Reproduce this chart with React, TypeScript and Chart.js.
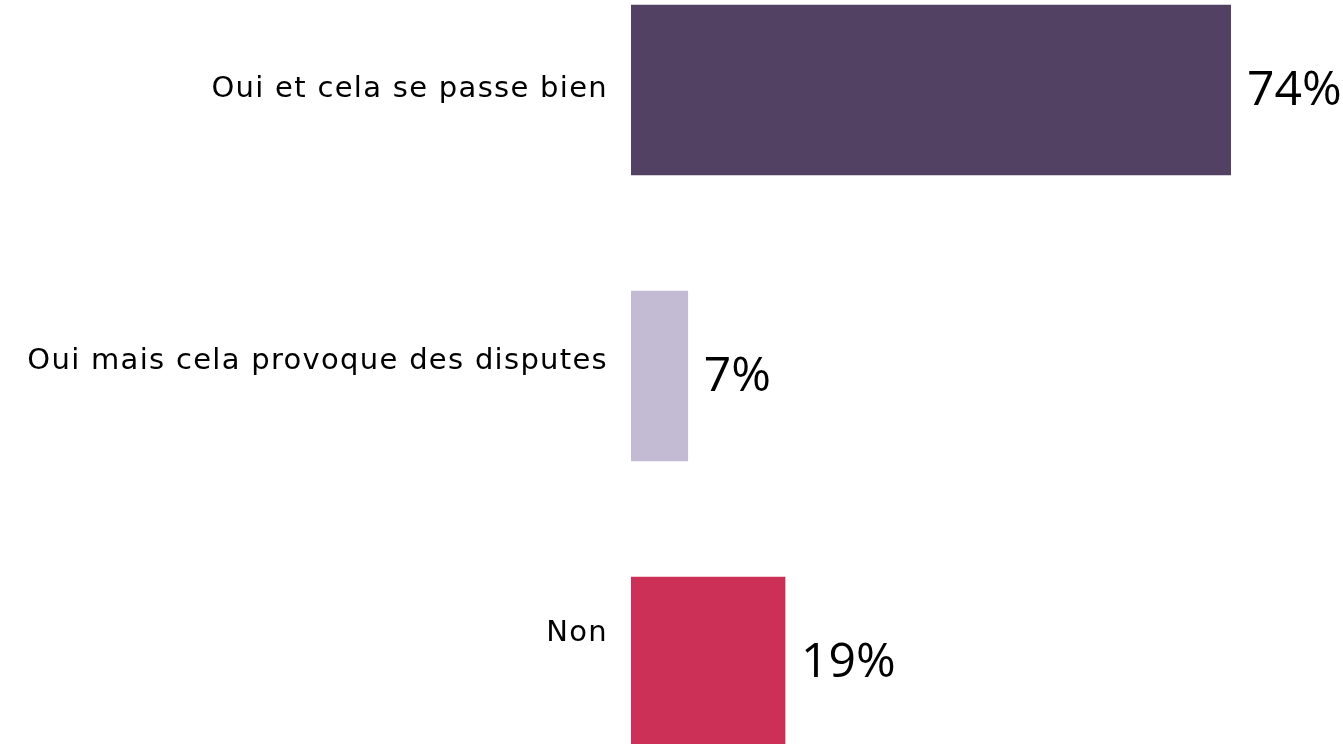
import React, { useEffect, useRef } from "react";
import { Chart, registerables } from "chart.js";

Chart.register(...registerables);

const categories = [
  "Oui et cela se passe bien",
  "Oui mais cela provoque des disputes",
  "Non",
];
const values = [74, 7, 19];
const barColors = ["#524162", "#c3bad3", "#cc3057"];
const labelPositions = [0, 1, 2];

const LABEL_FONT = "'DejaVu Sans', 'Open Sans', sans-serif";
const VALUE_FONT = "'Open Sans', 'Noto Sans', sans-serif";

const labelSpacing = {
  id: "labelSpacing",
  beforeDraw(chart: any) {
    chart.ctx.letterSpacing = "1.3px";
  },
  beforeDatasetsDraw(chart: any) {
    chart.ctx.letterSpacing = "0px";
  },
};

const valueLabels = {
  id: "valueLabels",
  afterDatasetsDraw(chart: any) {
    const ctx = chart.ctx;
    const meta = chart.getDatasetMeta(0);
    ctx.save();
    ctx.letterSpacing = "0px";
    ctx.font = `400 48px ${VALUE_FONT}`;
    ctx.fillStyle = "#000000";
    ctx.textAlign = "left";
    ctx.textBaseline = "middle";
    meta.data.forEach((bar: any, i: number) => {
      ctx.fillText(`${values[i]}%`, bar.x + 16, bar.y + 1);
    });
    ctx.restore();
  },
};

export default function App() {
  const ref = useRef<HTMLCanvasElement | null>(null);

  useEffect(() => {
    if (!ref.current) return;
    const chart = new Chart(ref.current, {
      type: "bar",
      data: {
        labels: categories,
        datasets: [
          {
            data: values,
            backgroundColor: barColors,
            borderWidth: 0,
            barThickness: 170,
            yAxisID: "y",
            xAxisID: "x",
          },
        ],
      },
      options: {
        indexAxis: "y",
        responsive: false,
        animation: false,
        events: [],
        layout: { padding: { left: 0, right: 112, top: 0, bottom: 0 } },
        plugins: {
          legend: { display: false },
          tooltip: { enabled: false },
        },
        scales: {
          x: { display: false, min: 0, max: 74 },
          y: { type: "category", display: false },
          y2: {
            type: "linear",
            position: "left",
            reverse: true,
            offset: false,
            bounds: "data",
            min: -0.525,
            max: 2.629,
            grid: { display: false, drawTicks: false, offset: false },
            border: { display: false },
            afterBuildTicks: (scale: any) => {
              scale.ticks = labelPositions.map((v) => ({ value: v }));
            },
            afterFit: (scale: any) => {
              scale.width = 631;
              scale.paddingTop = 0;
              scale.paddingBottom = 0;
            },
            ticks: {
              autoSkip: false,
              padding: 23,
              color: "#000000",
              font: { family: LABEL_FONT, size: 29, weight: "400" as any },
              callback: (v: any) => categories[Math.round(Number(v))] ?? "",
            },
          },
        },
      },
      plugins: [labelSpacing, valueLabels],
    });
    return () => chart.destroy();
  }, []);

  return (
    <div
      style={{
        position: "fixed",
        left: 0,
        top: -53,
        width: 1343,
        height: 858,
        background: "#ffffff",
      }}
    >
      <canvas ref={ref} width={1343} height={858} style={{ width: 1343, height: 858 }} />
    </div>
  );
}
